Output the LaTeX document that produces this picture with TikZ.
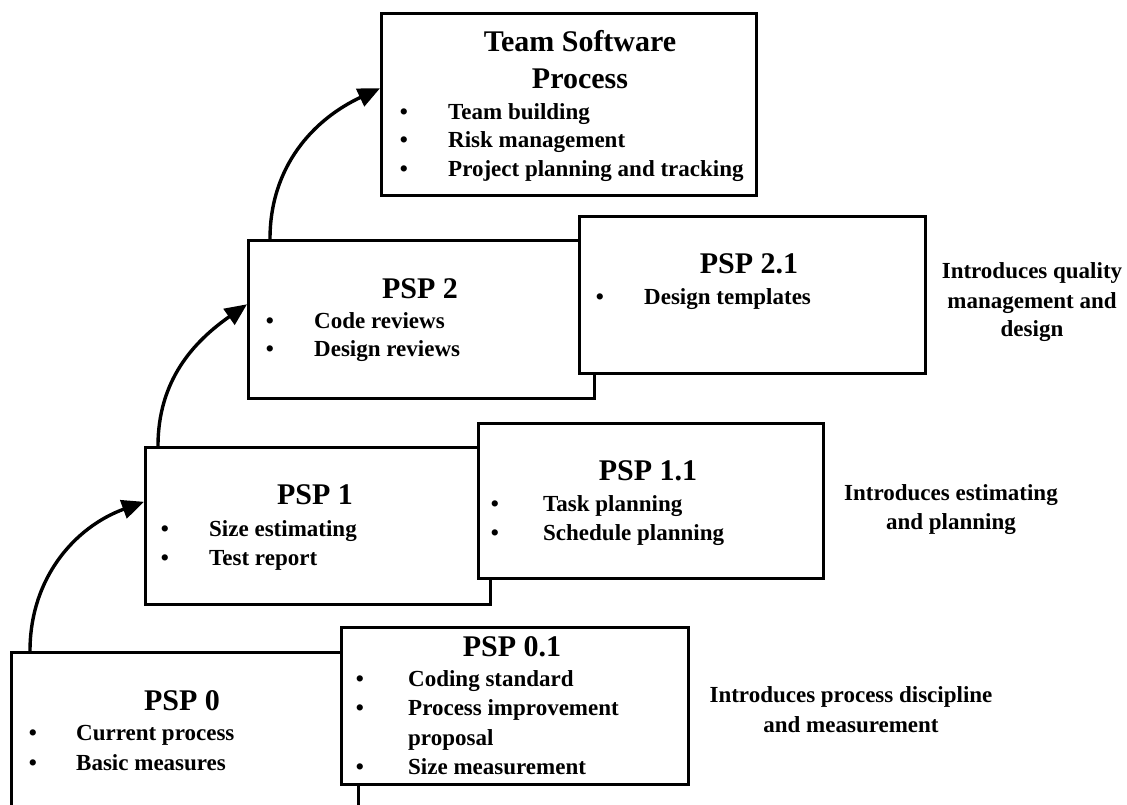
\documentclass[tikz,border=0pt]{standalone}
\usepackage{fontspec}
\setmainfont{Liberation Serif}
\usetikzlibrary{arrows.meta}

\tikzset{
  stage/.style={draw, line width=2.6pt, fill=white, anchor=north west,
                inner sep=0pt, minimum width=346pt, minimum height=157pt},
  ttl/.style={font=\fontsize{30}{36}\selectfont\bfseries, anchor=base, inner sep=0pt},
  itm/.style={font=\fontsize{23}{28}\selectfont\bfseries, anchor=base west, inner sep=0pt},
  bul/.style={font=\fontsize{23}{28}\selectfont\bfseries, anchor=base, inner sep=0pt},
  note/.style={font=\fontsize{23}{28}\selectfont\bfseries, anchor=base, inner sep=0pt},
  flow/.style={line width=3.4pt, -{Triangle[length=22pt,width=19pt]}}
}

\begin{document}
\begin{tikzpicture}[x=1pt,y=1pt]
\clip (0,0) rectangle (1127,805);
\fill[white] (0,0) rectangle (1127,805);

% ---- level 0 ----
\node[stage, minimum width=347pt, minimum height=190pt] (psp0) at (10,154) {};
\node[ttl] (t0) at (182,94) {PSP 0};
\node[bul] (b0a) at (33,64) {•};  \node[itm] (i0a) at (76,64) {Current process};
\node[bul] (b0b) at (33,34) {•};  \node[itm] (i0b) at (76,34) {Basic measures};

\node[stage, minimum width=347pt] (psp01) at (340,179) {};
\node[ttl] (t01) at (512,148) {PSP 0.1};
\node[bul] (b01a) at (360,118) {•}; \node[itm] (i01a) at (408,118) {Coding standard};
\node[bul] (b01b) at (360,89) {•};  \node[itm] (i01b) at (408,89) {Process improvement};
\node[itm] (i01c) at (408,59) {proposal};
\node[bul] (b01d) at (360,30) {•};  \node[itm] (i01d) at (408,30) {Size measurement};

% ---- level 1 ----
\node[stage, minimum width=345pt] (psp1) at (144,359) {};
\node[ttl] (t1) at (315,300) {PSP 1};
\node[bul] (b1a) at (165,268) {•}; \node[itm] (i1a) at (209,268) {Size estimating};
\node[bul] (b1b) at (165,239) {•}; \node[itm] (i1b) at (209,239) {Test report};

\node[stage, minimum width=345pt, minimum height=155pt] (psp11) at (477,383) {};
\node[ttl] (t11) at (648,324) {PSP 1.1};
\node[bul] (b11a) at (495,293) {•}; \node[itm] (i11a) at (543,293) {Task planning};
\node[bul] (b11b) at (495,264) {•}; \node[itm] (i11b) at (543,264) {Schedule planning};

% ---- level 2 ----
\node[stage, minimum height=158pt] (psp2) at (247,566) {};
\node[ttl] (t2) at (420,506) {PSP 2};
\node[bul] (b2a) at (270,476) {•}; \node[itm] (i2a) at (314,476) {Code reviews};
\node[bul] (b2b) at (270,448) {•}; \node[itm] (i2b) at (314,448) {Design reviews};

\node[stage] (psp21) at (578,590) {};
\node[ttl] (t21) at (749,531) {PSP 2.1};
\node[bul] (b21a) at (600,500) {•}; \node[itm] (i21a) at (644,500) {Design templates};

% ---- team level ----
\node[stage, minimum width=375pt, minimum height=182pt] (tsp) at (380,793) {};
\node[ttl] (tt1) at (580,753) {Team Software};
\node[ttl] (tt2) at (580,716) {Process};
\node[bul] (bta) at (404,685) {•}; \node[itm] (ita) at (448,685) {Team building};
\node[bul] (btb) at (404,657) {•}; \node[itm] (itb) at (448,657) {Risk management};
\node[bul] (btc) at (404,628) {•}; \node[itm] (itc) at (448,628) {Project planning and tracking};

% ---- side notes ----
\node[note] (n2a) at (1032,526) {Introduces quality};
\node[note] (n2b) at (1032,496) {management and};
\node[note] (n2c) at (1032,468) {design};
\node[note] (n1a) at (951,304) {Introduces estimating};
\node[note] (n1b) at (951,275) {and planning};
\node[note] (n0a) at (851,102) {Introduces process discipline};
\node[note] (n0b) at (851,72) {and measurement};

% ---- progression arrows ----
\draw[flow] ([xshift=20pt]psp0.north west) to[out=90,in=200] ([yshift=24pt]psp1.west);
\draw[flow] ([xshift=14pt]psp1.north west) to[out=90,in=215] ([yshift=15pt]psp2.west);
\draw[flow] ([xshift=23pt]psp2.north west) to[out=90,in=205] ([yshift=16pt]tsp.west);
\end{tikzpicture}
\end{document}
